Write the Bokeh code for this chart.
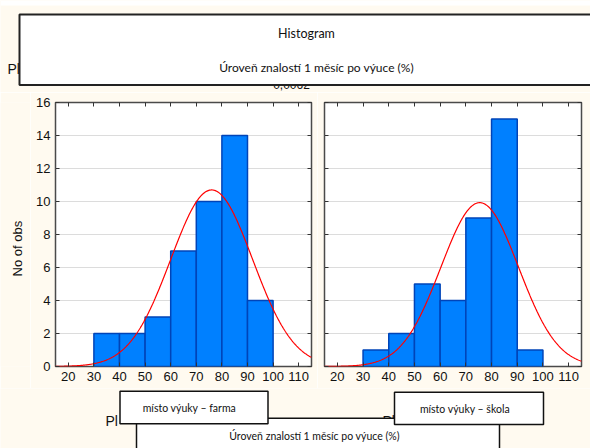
import numpy as np
from bokeh.plotting import figure
from bokeh.models import Range1d, LinearAxis, FixedTicker, Grid
from bokeh.layouts import column, row
from bokeh.core.properties import value
from bokeh.embed import file_html
from bokeh.resources import INLINE

# ---- data ----
bin_edges = [30, 40, 50, 60, 70, 80, 90, 100]
counts_farma = [2, 2, 3, 7, 10, 14, 4]
counts_skola = [1, 2, 5, 4, 9, 15, 1]
# fitted normal curves (mean, sd, peak height)
fit_farma = (76.0, 16.0, 10.7)
fit_skola = (75.4, 15.1, 9.93)

x_ticks = [20, 30, 40, 50, 60, 70, 80, 90, 100, 110]
y_ticks = [0, 2, 4, 6, 8, 10, 12, 14, 16]

title_line1 = "Histogram"
title_line2 = "Úroveň znalostí 1 měsíc po výuce (%)"
panel_farma = "místo výuky – farma"
panel_skola = "místo výuky – škola"
y_label = "No of obs"

CREAM = "#FFFAF0"
TICK_FONT = "Liberation Sans"
BOX_FONT = "Lato"


def labelled_axis(ticks):
    ax = LinearAxis(ticker=FixedTicker(ticks=ticks))
    ax.axis_line_color = None
    ax.major_tick_in = 4
    ax.major_tick_out = 0
    ax.minor_tick_line_color = None
    ax.major_tick_line_color = "#333333"
    ax.major_label_text_font = TICK_FONT
    ax.major_label_text_color = "#111111"
    ax.major_label_text_font_size = "13px"
    ax.major_label_standoff = 5
    return ax


def bare_axis(ticks):
    # tick marks only (drawn as minor ticks, so no tick labels exist)
    ax = LinearAxis(ticker=FixedTicker(ticks=[], minor_ticks=ticks))
    ax.axis_line_color = None
    ax.major_tick_line_color = None
    ax.minor_tick_in = 4
    ax.minor_tick_out = 0
    ax.minor_tick_line_color = "#333333"
    ax.minor_tick_line_width = 1
    ax.major_label_standoff = 0
    return ax


def blank_fig(w, h):
    f = figure(width=w, height=h, x_range=Range1d(0, w), y_range=Range1d(h, 0),
               output_backend="svg", toolbar_location=None, min_border=0,
               x_axis_type=None, y_axis_type=None)
    f.background_fill_color = CREAM
    f.border_fill_color = CREAM
    f.outline_line_color = None
    f.xgrid.visible = False
    f.ygrid.visible = False
    return f


def make_hist(counts, fit, width, mbl, mbr, ylabels):
    p = figure(width=width, height=296, x_range=Range1d(15, 115), y_range=Range1d(0, 16),
               output_backend="svg", toolbar_location=None,
               min_border_left=mbl, min_border_right=mbr, min_border_top=10, min_border_bottom=22,
               x_axis_type=None, y_axis_type=None)
    p.background_fill_color = "white"
    p.border_fill_color = CREAM
    p.outline_line_color = "#4a4a4a"
    p.outline_line_width = 1.5

    p.add_layout(labelled_axis(x_ticks), "below")
    p.add_layout(bare_axis(x_ticks), "above")
    p.add_layout(labelled_axis(y_ticks) if ylabels else bare_axis(y_ticks), "left")
    p.add_layout(bare_axis(y_ticks), "right")

    g = Grid(dimension=1, ticker=FixedTicker(ticks=y_ticks), grid_line_color="#dcdcdc", grid_line_width=1)
    p.add_layout(g)

    p.quad(left=bin_edges[:-1], right=bin_edges[1:], top=counts, bottom=0,
           fill_color="#0080FF", line_color="#0044B8", line_width=1.5)
    mu, sd, peak = fit
    xs = np.linspace(15, 115, 400)
    ys = peak * np.exp(-0.5 * ((xs - mu) / sd) ** 2)
    p.line(xs, ys, line_color="#FF0000", line_width=1.2)
    return p


# y-axis title strip (left of the first panel)
lab = blank_fig(30, 296)
lab.text(x=[17], y=[195], text=[y_label], angle=np.pi / 2, text_font=value(TICK_FONT),
         text_font_size="13px", text_color="#111111", text_align="left", text_baseline="middle")

left = make_hist(counts_farma, fit_farma, 287, 25, 6, True)
right = make_hist(counts_skola, fit_skola, 273, 7, 9, False)

# ---- top band with title box ----
top = blank_fig(590, 92)
top.quad(left=[0], right=[590], top=[0], bottom=[5], fill_color="white", line_color=None)
top.text(x=[7], y=[68], text=["Pl"], text_font=value(TICK_FONT), text_font_size="14px",
         text_color="#111111", text_align="left", text_baseline="middle")
top.text(x=[291], y=[84], text=["0,0062"], text_font=value(TICK_FONT), text_font_size="12px",
         text_color="#111111", text_align="center", text_baseline="middle")
top.quad(left=[19], right=[600], top=[14], bottom=[84.5], fill_color="white",
         line_color="#222222", line_width=2)
top.text(x=[306], y=[33], text=[title_line1], text_font=value(BOX_FONT), text_font_size="12.5px",
         text_color="#111111", text_align="center", text_baseline="middle")
top.text(x=[316], y=[67], text=[title_line2], text_font=value(BOX_FONT), text_font_size="12px",
         text_color="#111111", text_align="center", text_baseline="middle")

# ---- bottom band with panel boxes ----
bot = blank_fig(590, 60)
bot.text(x=[105, 382], y=[32, 32], text=["Pl", "Pl"], text_font=value(TICK_FONT),
         text_font_size="14px", text_color="#111111", text_align="left", text_baseline="middle")
bot.quad(left=[136], right=[499], top=[29.7], bottom=[80], fill_color="white",
         line_color="#111111", line_width=1.5)
bot.text(x=[314], y=[47], text=[title_line2], text_font=value(BOX_FONT), text_font_size="10.5px",
         text_color="#111111", text_align="center", text_baseline="middle")
bot.quad(left=[119.5, 394], right=[267.5, 543], top=[2.7, 3.7], bottom=[35.3, 36],
         fill_color="white", line_color="#111111", line_width=1.5)
bot.text(x=[189, 464.5], y=[19.5, 20.5], text=[panel_farma, panel_skola], text_font=value(BOX_FONT),
         text_font_size="10.5px", text_color="#111111", text_align="center", text_baseline="middle")

layout = column(top, row(lab, left, right), bot)
open("out.html", "w").write(file_html(layout, INLINE))
